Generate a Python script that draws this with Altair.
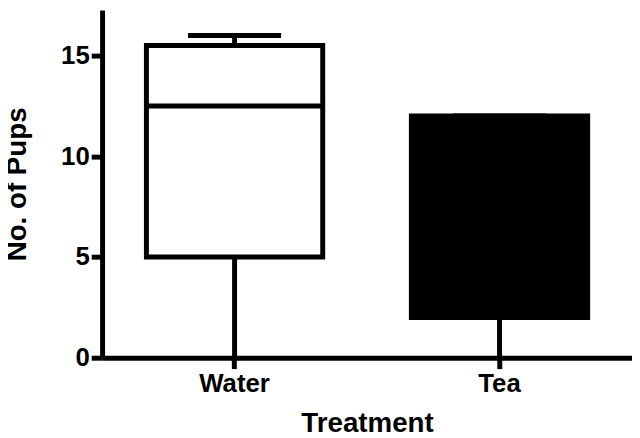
import altair as alt
import pandas as pd

categories = ["Water", "Tea"]
mins = [0, 0]
q1s = [5, 2]
medians = [12.5, 6]
q3s = [15.5, 12]
maxs = [16, 12]
y_ticks = [0, 5, 10, 15]

df = pd.DataFrame({
    "group": categories,
    "min": mins,
    "q1": q1s,
    "median": medians,
    "q3": q3s,
    "max": maxs,
})

FONT = "Liberation Sans"

x = alt.X(
    "group:N",
    sort=categories,
    scale=alt.Scale(paddingInner=0, paddingOuter=0),
    axis=alt.Axis(
        title="Treatment",
        labelAngle=0,
        labelPadding=2,
        titlePadding=14,
        tickSize=11,
    ),
)
yscale = alt.Scale(domain=[0, 17.26], nice=False, zero=True)
yaxis = alt.Axis(
    title="No. of Pups",
    values=y_ticks,
    tickSize=11,
    labelPadding=2,
    titlePadding=29,
)

base = alt.Chart(df)

lower = base.mark_rule(color="black", strokeWidth=5).encode(
    x=x, y=alt.Y("min:Q", scale=yscale, axis=yaxis), y2="q1:Q"
)
upper = base.mark_rule(color="black", strokeWidth=5).encode(
    x=x, y=alt.Y("q3:Q", scale=yscale), y2="max:Q"
)
cap = base.mark_tick(color="black", size=94, thickness=5, opacity=1).encode(
    x=x, y=alt.Y("max:Q", scale=yscale)
)
box = base.mark_bar(size=178, stroke="black", strokeWidth=5, opacity=1).encode(
    x=x,
    y=alt.Y("q1:Q", scale=yscale),
    y2="q3:Q",
    color=alt.Color(
        "group:N",
        scale=alt.Scale(domain=categories, range=["white", "black"]),
        legend=None,
    ),
)
median = base.mark_tick(color="black", size=178, thickness=5, opacity=1).encode(
    x=x, y=alt.Y("median:Q", scale=yscale)
)

chart = (
    alt.layer(lower, upper, cap, box, median)
    .properties(
        width=535,
        height=351,
        autosize=alt.AutoSizeParams(type="none"),
        padding={"left": 95, "top": 0, "right": 0, "bottom": 79},
    )
    .configure_view(stroke=None)
    .configure_axis(
        grid=False,
        domainColor="black",
        domainWidth=5,
        tickColor="black",
        tickWidth=5,
        labelFont=FONT,
        labelFontWeight="bold",
        labelFontSize=26,
        labelColor="black",
        titleFont=FONT,
        titleFontWeight="bold",
        titleFontSize=28,
        titleColor="black",
    )
)

chart.save("out.html", embed_options={"renderer": "svg", "actions": False})
